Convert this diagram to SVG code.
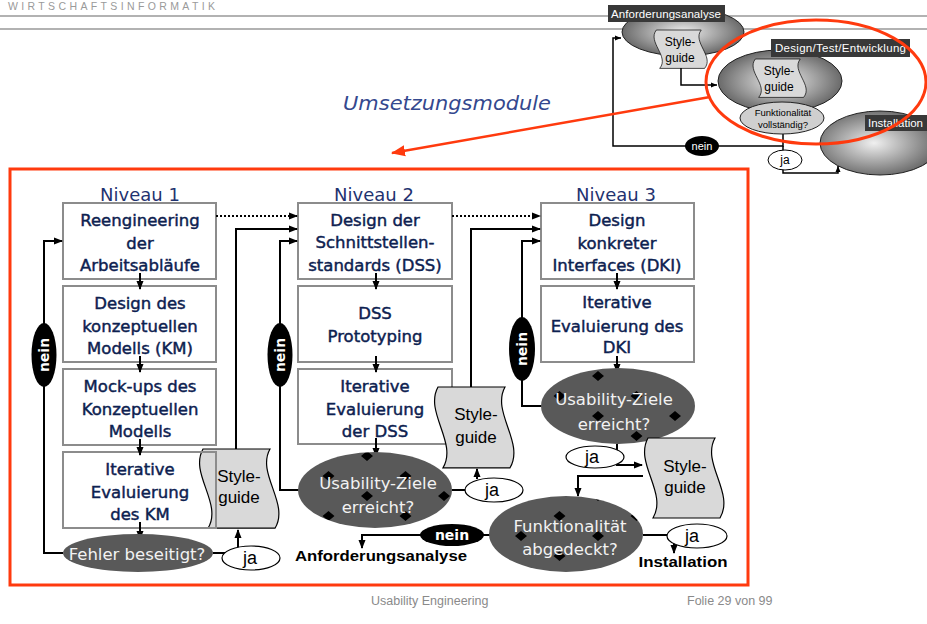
<svg xmlns="http://www.w3.org/2000/svg" xmlns:xlink="http://www.w3.org/1999/xlink" width="927" height="624" viewBox="0 0 927 624">
<style>
.box{fill:#fff;stroke:#8c8c8c;stroke-width:2}
.boxs{fill:none;stroke:#8c8c8c;stroke-width:2}
.bt{font-family:"DejaVu Sans",Verdana,sans-serif;font-size:16.5px;fill:#0d2150;stroke:#0d2150;stroke-width:0.45;text-anchor:middle}
.niv{font-family:"DejaVu Sans",Verdana,sans-serif;font-size:18px;fill:#1f3370;text-anchor:middle}
.dec{fill:url(#dia)}
.dt{font-family:"DejaVu Sans",Verdana,sans-serif;font-size:16.5px;fill:#f2f2f2;text-anchor:middle}
.doc{fill:#d9d9d9;stroke:#000;stroke-width:1.2}
.st{font-family:"Liberation Sans",Arial,sans-serif;font-size:17px;fill:#000;text-anchor:middle}
.ja{fill:#fff;stroke:#000;stroke-width:1.2}
.jt{font-family:"Liberation Sans",Arial,sans-serif;font-size:18px;fill:#000;text-anchor:middle}
.nein{fill:#000}
.nt{font-family:"DejaVu Sans",Verdana,sans-serif;font-size:14px;font-weight:bold;fill:#fff;text-anchor:middle}
.ln{fill:none;stroke:#000;stroke-width:2}
.dot{fill:none;stroke:#000;stroke-width:2;stroke-dasharray:2 2}
.mln{fill:none;stroke:#000;stroke-width:1.5}
.lab{fill:#383838}
.labt{font-family:"Liberation Sans",Arial,sans-serif;font-size:11.5px;fill:#fff}
.mg{fill:url(#gr);stroke:#222;stroke-width:1}
.foot{font-family:"Liberation Sans",Arial,sans-serif;font-size:12.5px;fill:#8a8a8a}
.red{fill:none;stroke:#ff3a0e;stroke-width:3}
.bold{font-family:"Liberation Sans",Arial,sans-serif;font-weight:bold;fill:#000;text-anchor:middle}
</style>
<defs>
<marker id="ah" markerWidth="9" markerHeight="8" refX="8" refY="4" orient="auto" markerUnits="userSpaceOnUse"><path d="M0,0.5 L9,4 L0,7.5 Z" fill="#000"/></marker>
<marker id="ahs" markerWidth="6" markerHeight="6" refX="6" refY="3" orient="auto" markerUnits="userSpaceOnUse"><path d="M0,0.5 L6,3 L0,5.5 Z" fill="#000"/></marker>
<marker id="ahr" markerWidth="14" markerHeight="12" refX="13" refY="6" orient="auto" markerUnits="userSpaceOnUse"><path d="M0,0.5 L14,6 L0,11.5 Z" fill="#ff3a0e"/></marker>
<pattern id="dia" patternUnits="userSpaceOnUse" x="59" y="16" width="77" height="40">
<rect width="77" height="40" fill="#595959"/>
<path d="M0,-5 L6,0 L0,5 L-6,0 Z M77,-5 L83,0 L77,5 L71,0 Z M0,35 L6,40 L0,45 L-6,40 Z M77,35 L83,40 L77,45 L71,40 Z M38.5,15 L44.5,20 L38.5,25 L32.5,20 Z" fill="#000"/>
</pattern>
<radialGradient id="gr" cx="0.5" cy="0.5" r="0.5">
<stop offset="0" stop-color="#f0f0f0"/>
<stop offset="1" stop-color="#6a6a6a"/>
</radialGradient>
<radialGradient id="gr2" cx="0.45" cy="0.5" r="0.55">
<stop offset="0" stop-color="#f0f0f0"/>
<stop offset="1" stop-color="#666"/>
</radialGradient>
<path id="docp" d="M5,0 L72,0 C58,25 92,55 77,80 L10,80 C25,55 -9,25 5,0 Z"/>
</defs>

<g id="header">
<text x="8" y="9.5" font-family="'Liberation Sans',Arial,sans-serif" font-size="10.5" fill="#9a9a9a" textLength="207" lengthAdjust="spacing">WIRTSCHAFTSINFORMATIK</text>
<line x1="0" y1="16" x2="927" y2="16" stroke="#999" stroke-width="1.5"/>
<line x1="0" y1="29" x2="927" y2="29" stroke="#999" stroke-width="1.5"/>
<text x="343" y="110" font-family="'DejaVu Sans',Verdana,sans-serif" font-size="20" font-style="italic" fill="#34488e" textLength="208" lengthAdjust="spacingAndGlyphs">Umsetzungsmodule</text>
</g>

<g id="mini">
<g id="mini-anf">
<ellipse class="mg" cx="683" cy="32" rx="61" ry="24"/>
<use xlink:href="#docp" href="#docp" class="doc" transform="translate(653,30) scale(0.67,0.48)"/>
<text x="680" y="46" font-family="'Liberation Sans',Arial,sans-serif" font-size="12" text-anchor="middle">Style-</text>
<text x="680" y="62" font-family="'Liberation Sans',Arial,sans-serif" font-size="12" text-anchor="middle">guide</text>
<rect class="lab" x="608" y="5" width="117" height="17"/>
<text class="labt" x="611" y="18" textLength="110">Anforderungsanalyse</text>
</g>
<g id="mini-inst">
<ellipse cx="880" cy="143" rx="60" ry="32" fill="url(#gr2)" stroke="#222" stroke-width="1"/>
<rect class="lab" x="865" y="115" width="62" height="16"/>
<text class="labt" x="868" y="127">Installation</text>
</g>
<g id="mini-design">
<ellipse class="mg" cx="780" cy="81" rx="62" ry="31"/>
<use xlink:href="#docp" href="#docp" class="doc" transform="translate(752,59) scale(0.67,0.48)"/>
<text x="779" y="75" font-family="'Liberation Sans',Arial,sans-serif" font-size="12" text-anchor="middle">Style-</text>
<text x="779" y="91" font-family="'Liberation Sans',Arial,sans-serif" font-size="12" text-anchor="middle">guide</text>
<rect class="lab" x="771" y="39" width="139" height="18"/>
<text class="labt" x="775" y="52" textLength="131">Design/Test/Entwicklung</text>
</g>
<g id="mini-connectors">
<path class="mln" d="M681,68 V85 H717" marker-end="url(#ahs)"/>
<path class="mln" d="M783,134 V146 H613 V38 H621" marker-end="url(#ahs)"/>
<path class="mln" d="M783,146 V173 H838 V166" marker-end="url(#ahs)"/>
</g>
<g id="mini-funk">
<ellipse cx="782" cy="118" rx="42" ry="16" fill="#cfcfcf" stroke="#222" stroke-width="1"/>
<text x="783" y="116" font-family="'Liberation Sans',Arial,sans-serif" font-size="9.5" text-anchor="middle">Funktionalität</text>
<text x="783" y="128" font-family="'Liberation Sans',Arial,sans-serif" font-size="9.5" text-anchor="middle">vollständig?</text>
</g>
<g id="mini-nein">
<ellipse cx="702" cy="146" rx="17" ry="10" fill="#000"/>
<text x="702" y="150" font-family="'Liberation Sans',Arial,sans-serif" font-size="11" fill="#fff" text-anchor="middle">nein</text>
</g>
<g id="mini-ja">
<ellipse cx="785" cy="160" rx="17" ry="10" fill="#fff" stroke="#000" stroke-width="1"/>
<text x="785" y="164" font-family="'Liberation Sans',Arial,sans-serif" font-size="12" text-anchor="middle">ja</text>
</g>
<ellipse id="red-ellipse" class="red" cx="816" cy="82" rx="110" ry="62"/>
<line x1="710" y1="97" x2="392" y2="153" stroke="#ff3a0e" stroke-width="2.5" marker-end="url(#ahr)"/>
</g>

<g id="frame"><rect class="red" x="10" y="169" width="738" height="416"/></g>

<g id="labels">
<text class="niv" x="140" y="201">Niveau 1</text>
<text class="niv" x="374" y="201">Niveau 2</text>
<text class="niv" x="616" y="201">Niveau 3</text>
</g>

<g id="l1-box1"><rect class="box" x="63" y="203" width="153" height="76"/>
<text class="bt" x="140" y="226">Reengineering</text><text class="bt" x="140" y="249">der</text><text class="bt" x="140" y="271">Arbeitsabläufe</text></g>
<g id="l1-box2"><rect class="box" x="63" y="286" width="153" height="76"/>
<text class="bt" x="140" y="309">Design des</text><text class="bt" x="140" y="332">konzeptuellen</text><text class="bt" x="140" y="354">Modells (KM)</text></g>
<g id="l1-box3"><rect class="box" x="63" y="369" width="153" height="76"/>
<text class="bt" x="140" y="392">Mock-ups des</text><text class="bt" x="140" y="415">Konzeptuellen</text><text class="bt" x="140" y="437">Modells</text></g>
<g id="l1-box4"><rect class="box" x="63" y="452" width="153" height="76"/>
<text class="bt" x="140" y="475">Iterative</text><text class="bt" x="140" y="498">Evaluierung</text><text class="bt" x="140" y="520">des KM</text></g>
<g id="l1-doc"><use xlink:href="#docp" href="#docp" class="doc" transform="translate(198,449) scale(1,0.99)"/>
<rect class="boxs" x="63" y="452" width="153" height="76"/>
<text class="st" x="239" y="482">Style-</text><text class="st" x="239" y="503">guide</text></g>

<g id="l2-box1"><rect class="box" x="298" y="203" width="154" height="76"/>
<text class="bt" x="375" y="226">Design der</text><text class="bt" x="375" y="248">Schnittstellen-</text><text class="bt" x="375" y="271">standards (DSS)</text></g>
<g id="l2-box2"><rect class="box" x="298" y="286" width="154" height="76"/>
<text class="bt" x="375" y="319">DSS</text><text class="bt" x="375" y="342">Prototyping</text></g>
<g id="l2-box3"><rect class="box" x="298" y="369" width="154" height="75"/>
<text class="bt" x="375" y="392">Iterative</text><text class="bt" x="375" y="415">Evaluierung</text><text class="bt" x="375" y="437">der DSS</text></g>
<g id="l2-doc"><use xlink:href="#docp" href="#docp" class="doc" transform="translate(433,387) scale(1,1.01)"/>
<text class="st" x="476" y="420">Style-</text><text class="st" x="476" y="443">guide</text></g>

<g id="l3-box1"><rect class="box" x="541" y="203" width="153" height="76"/>
<text class="bt" x="617" y="226">Design</text><text class="bt" x="617" y="249">konkreter</text><text class="bt" x="617" y="271">Interfaces (DKI)</text></g>
<g id="l3-box2"><rect class="box" x="541" y="286" width="153" height="76"/>
<text class="bt" x="617" y="308">Iterative</text><text class="bt" x="617" y="332">Evaluierung des</text><text class="bt" x="617" y="353">DKI</text></g>

<g id="connectors">
<path class="dot" d="M216,216 H297" marker-end="url(#ah)"/>
<path class="dot" d="M452,216 H540" marker-end="url(#ah)"/>
<path class="ln" d="M236,449 V229 H297" marker-end="url(#ah)"/>
<path class="ln" d="M299,490 H280 V241 H297" marker-end="url(#ah)"/>
<path class="ln" d="M471,387 V229 H540" marker-end="url(#ah)"/>
<path class="ln" d="M542,406 H522 V241 H540" marker-end="url(#ah)"/>
<path class="ln" d="M63,553 H44 V241 H62" marker-end="url(#ah)"/>
<path class="ln" d="M140,273 V289" marker-end="url(#ah)"/>
<path class="ln" d="M140,356 V372" marker-end="url(#ah)"/>
<path class="ln" d="M140,439 V455" marker-end="url(#ah)"/>
<path class="ln" d="M140,522 V539" marker-end="url(#ah)"/>
<path class="ln" d="M376,273 V289" marker-end="url(#ah)"/>
<path class="ln" d="M376,356 V372" marker-end="url(#ah)"/>
<path class="ln" d="M376,438 V456" marker-end="url(#ah)"/>
<path class="ln" d="M617,273 V289" marker-end="url(#ah)"/>
<path class="ln" d="M617,356 V372" marker-end="url(#ah)"/>
<path class="ln" d="M213,553 H226"/>
<path class="ln" d="M238,548 V530" marker-end="url(#ah)"/>
<path class="ln" d="M452,490 H468"/>
<path class="ln" d="M477,479 V469" marker-end="url(#ah)"/>
<path class="ln" d="M617,444 V465 H642" marker-end="url(#ah)"/>
<path class="ln" d="M643,476 H578 V496" marker-end="url(#ah)"/>
<path class="ln" d="M643,535 H670"/>
<path class="ln" d="M674,535 V553" marker-end="url(#ah)"/>
<path class="ln" d="M490,535 H420 H362 V548" marker-end="url(#ah)"/>
</g>

<g id="l1-dec"><ellipse cx="138" cy="553" rx="75" ry="19" fill="#595959"/>
<text class="dt" x="137" y="560">Fehler beseitigt?</text></g>
<g id="l2-dec"><ellipse class="dec" cx="375" cy="490" rx="77" ry="38"/>
<text class="dt" x="378" y="489">Usability-Ziele</text><text class="dt" x="378" y="513">erreicht?</text></g>
<g id="l3-dec"><ellipse class="dec" cx="618" cy="406" rx="77" ry="38"/>
<text class="dt" x="614" y="405">Usability-Ziele</text><text class="dt" x="614" y="430">erreicht?</text></g>
<g id="l3-doc"><use xlink:href="#docp" href="#docp" class="doc" transform="translate(643,438)"/>
<text class="st" x="685" y="472">Style-</text><text class="st" x="685" y="493">guide</text></g>
<g id="funk-dec"><ellipse class="dec" cx="566" cy="534" rx="77" ry="38"/>
<text class="dt" x="570" y="532">Funktionalität</text><text class="dt" x="570" y="555">abgedeckt?</text></g>

<g id="nein-l1"><ellipse class="nein" cx="44" cy="355" rx="12.5" ry="32"/>
<text class="nt" transform="translate(49,355) rotate(-90)">nein</text></g>
<g id="nein-l2"><ellipse class="nein" cx="280" cy="355" rx="12.5" ry="32"/>
<text class="nt" transform="translate(285,355) rotate(-90)">nein</text></g>
<g id="nein-l3"><ellipse class="nein" cx="522" cy="349" rx="13" ry="32"/>
<text class="nt" transform="translate(527,349) rotate(-90)">nein</text></g>
<g id="nein-bottom"><ellipse class="nein" cx="452" cy="535" rx="32" ry="11"/>
<text class="nt" x="452" y="540" font-size="14.5">nein</text></g>

<g id="ja-l1"><ellipse class="ja" cx="251" cy="558" rx="29" ry="12"/><text class="jt" x="250" y="564">ja</text></g>
<g id="ja-l2"><ellipse class="ja" cx="494" cy="490" rx="29" ry="12"/><text class="jt" x="492" y="496">ja</text></g>
<g id="ja-l3a"><ellipse class="ja" cx="595" cy="457" rx="29" ry="11"/><text class="jt" x="592" y="463">ja</text></g>
<g id="ja-l3b"><ellipse class="ja" cx="697" cy="536" rx="30" ry="12"/><text class="jt" x="692" y="542">ja</text></g>

<g id="targets">
<text class="bold" x="381" y="561" font-size="15" textLength="172" lengthAdjust="spacingAndGlyphs">Anforderungsanalyse</text>
<text class="bold" x="683" y="567" font-size="15" textLength="89" lengthAdjust="spacingAndGlyphs">Installation</text>
</g>

<g id="footer">
<text class="foot" x="371" y="605">Usability Engineering</text>
<text class="foot" x="687" y="605">Folie 29 von 99</text>
</g>
</svg>
